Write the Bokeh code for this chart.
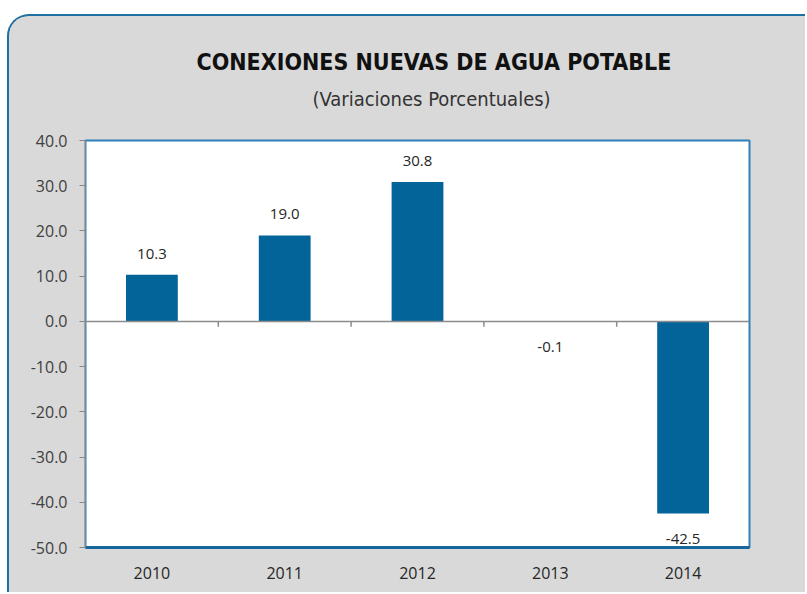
from bokeh.plotting import figure
from bokeh.models import (ColumnDataSource, FactorRange, Range1d, LabelSet, Title,
                          Span, FixedTicker, NumeralTickFormatter)
from bokeh.transform import dodge
from bokeh.core.properties import value
from bokeh.embed import file_html
from bokeh.resources import INLINE

# ---- data ----
years = ["2010", "2011", "2012", "2013", "2014"]
variation = [10.3, 19.0, 30.8, -0.1, -42.5]
y_ticks = [-50, -40, -30, -20, -10, 0, 10, 20, 30, 40]
title_text = "CONEXIONES NUEVAS DE AGUA POTABLE"
subtitle_text = "(Variaciones Porcentuales)"

BG = "#d9d9d9"
FRAME = "#1f6fa3"
BAR = "#036499"
TITLE_FONT = "'DejaVu Sans Condensed', 'Roboto', sans-serif"

p = figure(x_range=FactorRange(*years, range_padding=0),
           y_range=Range1d(-50, 40),
           width=798, height=578,
           output_backend="svg", toolbar_location=None,
           min_border_left=76, min_border_right=58,
           min_border_top=124, min_border_bottom=47,
           border_fill_color=BG, background_fill_color="white",
           outline_line_color="#2f80bb", outline_line_width=2)

p.styles = {"border-top": f"2px solid {FRAME}", "border-left": f"2px solid {FRAME}",
            "border-top-left-radius": "22px", "overflow": "hidden",
            "background-color": BG, "margin-top": "14px", "margin-left": "7px"}

p.xgrid.visible = False
p.ygrid.visible = False

src = ColumnDataSource(dict(
    x=years, top=variation,
    label=[f"{v:.1f}" for v in variation],
    off=[21 if v >= 0 else -25 for v in variation],
))

p.vbar(x="x", top="top", bottom=0, width=0.39, source=src,
       fill_color=BAR, line_color=None)

# zero line with category-boundary ticks
p.add_layout(Span(location=0, dimension="width", line_color="#8c8c8c", line_width=1.5))
p.segment(x0=dodge("x", -0.5, range=p.x_range), x1=dodge("x", -0.5, range=p.x_range),
          y0=0, y1=-1.2, source=ColumnDataSource(dict(x=years[1:])),
          line_color="#8c8c8c", line_width=1.5)

labels = LabelSet(x="x", y="top", text="label", y_offset="off", source=src,
                  text_align="center", text_baseline="middle",
                  text_font=value("Open Sans"), text_font_size="15px",
                  text_color="#262626")
p.add_layout(labels)

# y axis
p.yaxis.ticker = FixedTicker(ticks=y_ticks)
p.yaxis.formatter = NumeralTickFormatter(format="0.0")
p.yaxis.axis_line_color = "#868686"
p.yaxis.major_tick_line_color = "#868686"
p.yaxis.major_tick_out = 6
p.yaxis.major_tick_in = 0
p.yaxis.minor_tick_line_color = None
p.yaxis.major_label_standoff = 12
p.yaxis.major_label_text_font = "Open Sans"
p.yaxis.major_label_text_font_size = "16px"
p.yaxis.major_label_text_color = "#404040"

# x axis
p.xaxis.axis_line_color = "#17679c"
p.xaxis.axis_line_width = 3
p.xaxis.major_tick_line_color = None
p.xaxis.minor_tick_line_color = None
p.xaxis.major_label_standoff = 13
p.xaxis.major_label_text_font = "Open Sans"
p.xaxis.major_label_text_font_size = "16px"
p.xaxis.major_label_text_color = "#262626"

# titles: p.title is the outer (main) title, the added Title sits nearer the frame
p.title.text = title_text
p.title.align = "left"
p.title.offset = 111
p.title.standoff = -40
p.title.text_font = TITLE_FONT
p.title.text_font_style = "bold"
p.title.text_font_size = "23px"
p.title.text_color = "#111111"

p.add_layout(Title(text=subtitle_text, align="left", offset=227, standoff=60,
                   text_font=TITLE_FONT, text_font_style="normal",
                   text_font_size="20px", text_color="#333333"), "above")

open("out.html", "w").write(file_html(p, INLINE))
